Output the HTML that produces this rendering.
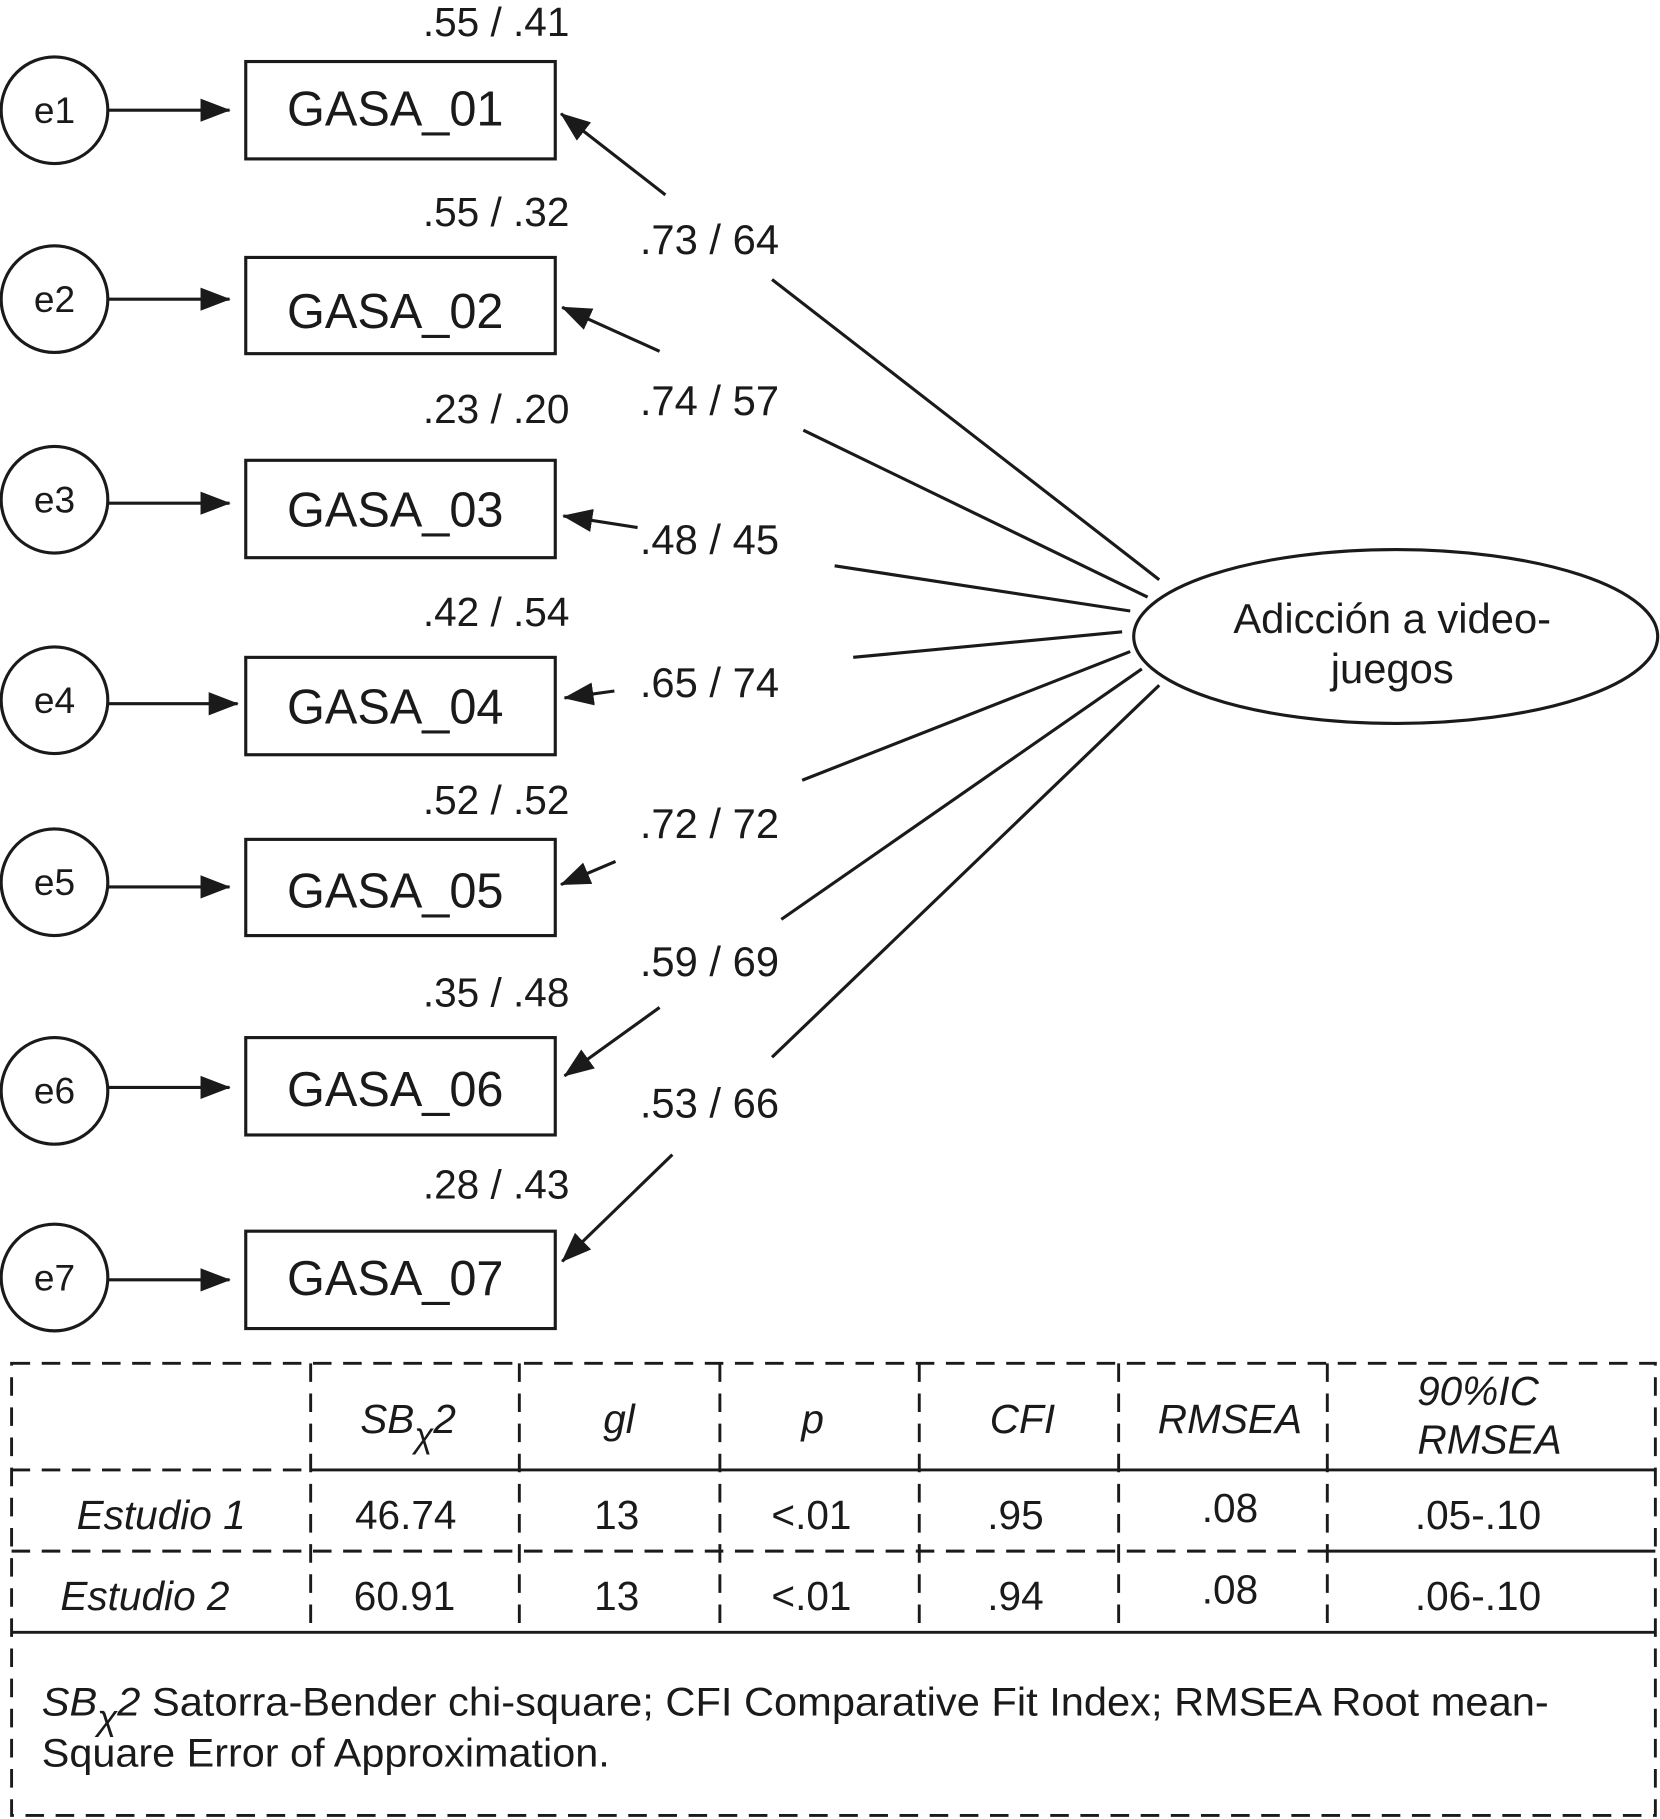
<!DOCTYPE html>
<html><head><meta charset="utf-8"><style>html,body{margin:0;padding:0;background:#fff}svg{display:block}</style></head>
<body>
<svg width="1660" height="1819" viewBox="0 0 1432 1569" xmlns="http://www.w3.org/2000/svg" font-family="Liberation Sans, Arial, sans-serif" fill="#1a1a1a">
<defs>
<marker id="b" markerWidth="26" markerHeight="26" refX="25" refY="13" orient="auto" markerUnits="userSpaceOnUse" viewBox="0 0 26 26"><path d="M0,3 L26,13 L0,23 z" fill="#1a1a1a"/></marker></defs>
<g stroke="#1a1a1a" stroke-width="2.7" fill="none">
<circle cx="47" cy="95" r="46"/><circle cx="47" cy="258" r="46"/><circle cx="47" cy="431" r="46"/><circle cx="47" cy="604" r="46"/><circle cx="47" cy="761" r="46"/><circle cx="47" cy="941" r="46"/><circle cx="47" cy="1102" r="46"/>
<rect x="212" y="53" width="267" height="84"/><rect x="212" y="222" width="267" height="83"/><rect x="212" y="397" width="267" height="84"/><rect x="212" y="567" width="267" height="84"/><rect x="212" y="724" width="267" height="83"/><rect x="212" y="895" width="267" height="84"/><rect x="212" y="1062" width="267" height="84"/>
<g marker-end="url(#b)">
<line x1="93" y1="95" x2="198" y2="95"/><line x1="93" y1="258" x2="198" y2="258"/><line x1="93" y1="434" x2="198" y2="434"/><line x1="93" y1="607" x2="205" y2="607"/><line x1="93" y1="765" x2="198" y2="765"/><line x1="93" y1="938" x2="198" y2="938"/><line x1="93" y1="1104" x2="198" y2="1104"/>
<line x1="574" y1="168" x2="484" y2="98"/><line x1="569" y1="303" x2="485" y2="265"/><line x1="550" y1="455" x2="486" y2="445"/><line x1="530" y1="596" x2="487" y2="602"/><line x1="531" y1="743" x2="484" y2="763"/><line x1="569" y1="869" x2="487" y2="928"/><line x1="580" y1="996" x2="485" y2="1088"/>
</g>
<line x1="1000" y1="500" x2="666" y2="241"/><line x1="990" y1="515" x2="693" y2="371"/><line x1="975" y1="527" x2="720" y2="488"/><line x1="968" y1="545" x2="736" y2="567"/><line x1="975" y1="562" x2="692" y2="673"/><line x1="985" y1="577" x2="674" y2="793"/><line x1="1000" y1="591" x2="666" y2="912"/>
<ellipse cx="1204" cy="549" rx="226" ry="75"/>
</g>
<g font-size="42" text-anchor="middle">
<text x="341" y="108">GASA_01</text><text x="341" y="283">GASA_02</text><text x="341" y="454">GASA_03</text><text x="341" y="624">GASA_04</text><text x="341" y="783">GASA_05</text><text x="341" y="954">GASA_06</text><text x="341" y="1117">GASA_07</text>
</g>
<g font-size="32" text-anchor="middle">
<text x="47" y="106">e1</text><text x="47" y="269">e2</text><text x="47" y="442">e3</text><text x="47" y="615">e4</text><text x="47" y="772">e5</text><text x="47" y="952">e6</text><text x="47" y="1113">e7</text>
</g>
<g font-size="35" text-anchor="middle">
<text x="428" y="31">.55 / .41</text><text x="428" y="195">.55 / .32</text><text x="428" y="365">.23 / .20</text><text x="428" y="540">.42 / .54</text><text x="428" y="702">.52 / .52</text><text x="428" y="868">.35 / .48</text><text x="428" y="1034">.28 / .43</text>
<text x="612" y="219" font-size="36">.73 / 64</text><text x="612" y="358" font-size="36">.74 / 57</text><text x="612" y="478" font-size="36">.48 / 45</text><text x="612" y="601" font-size="36">.65 / 74</text><text x="612" y="723" font-size="36">.72 / 72</text><text x="612" y="842" font-size="36">.59 / 69</text><text x="612" y="964" font-size="36">.53 / 66</text>
<text x="1201" y="546" font-size="36">Adicción a video-</text><text x="1201" y="589" font-size="36">juegos</text>
</g>
<g stroke="#1a1a1a" stroke-width="2.5" fill="none">
<rect x="10" y="1176" width="1418" height="390" stroke-dasharray="16,10"/>
<g stroke-dasharray="16,10">
<line x1="268" y1="1176" x2="268" y2="1408"/><line x1="448" y1="1176" x2="448" y2="1408"/><line x1="621" y1="1176" x2="621" y2="1408"/><line x1="793" y1="1176" x2="793" y2="1408"/><line x1="965" y1="1176" x2="965" y2="1408"/><line x1="1145" y1="1176" x2="1145" y2="1408"/>
<line x1="10" y1="1268" x2="268" y2="1268"/><line x1="10" y1="1338" x2="1145" y2="1338"/>
</g>
<line x1="268" y1="1268" x2="1428" y2="1268"/><line x1="1145" y1="1338" x2="1428" y2="1338"/><line x1="10" y1="1408" x2="1428" y2="1408"/>
</g>
<g font-size="35" text-anchor="middle">
<text x="352" y="1236" font-style="italic">SB<tspan font-size="30" dy="12">χ</tspan><tspan dy="-12">2</tspan></text>
<text x="534" y="1236" font-style="italic">gl</text><text x="701" y="1236" font-style="italic">p</text><text x="882" y="1236" font-style="italic">CFI</text><text x="1061" y="1236" font-style="italic">RMSEA</text>
<text x="1275" y="1212" font-style="italic">90%IC</text><text x="1285" y="1254" font-style="italic">RMSEA</text>
<text x="139" y="1319" font-style="italic">Estudio 1</text><text x="350" y="1319">46.74</text><text x="532" y="1319">13</text><text x="700" y="1319">&lt;.01</text><text x="876" y="1319">.95</text><text x="1061" y="1313">.08</text><text x="1275" y="1319">.05-.10</text>
<text x="125" y="1389" font-style="italic">Estudio 2</text><text x="349" y="1389">60.91</text><text x="532" y="1389">13</text><text x="700" y="1389">&lt;.01</text><text x="876" y="1389">.94</text><text x="1061" y="1383">.08</text><text x="1275" y="1389">.06-.10</text>
</g>
<g font-size="34">
<text x="36" y="1480" textLength="1300" lengthAdjust="spacingAndGlyphs"><tspan font-style="italic">SB<tspan font-size="30" dy="12">χ</tspan><tspan dy="-12">2</tspan></tspan> Satorra-Bender chi-square; CFI Comparative Fit Index; RMSEA Root mean-</text>
<text x="36" y="1524" textLength="490" lengthAdjust="spacingAndGlyphs">Square Error of Approximation.</text>
</g>
</svg>
</body></html>
